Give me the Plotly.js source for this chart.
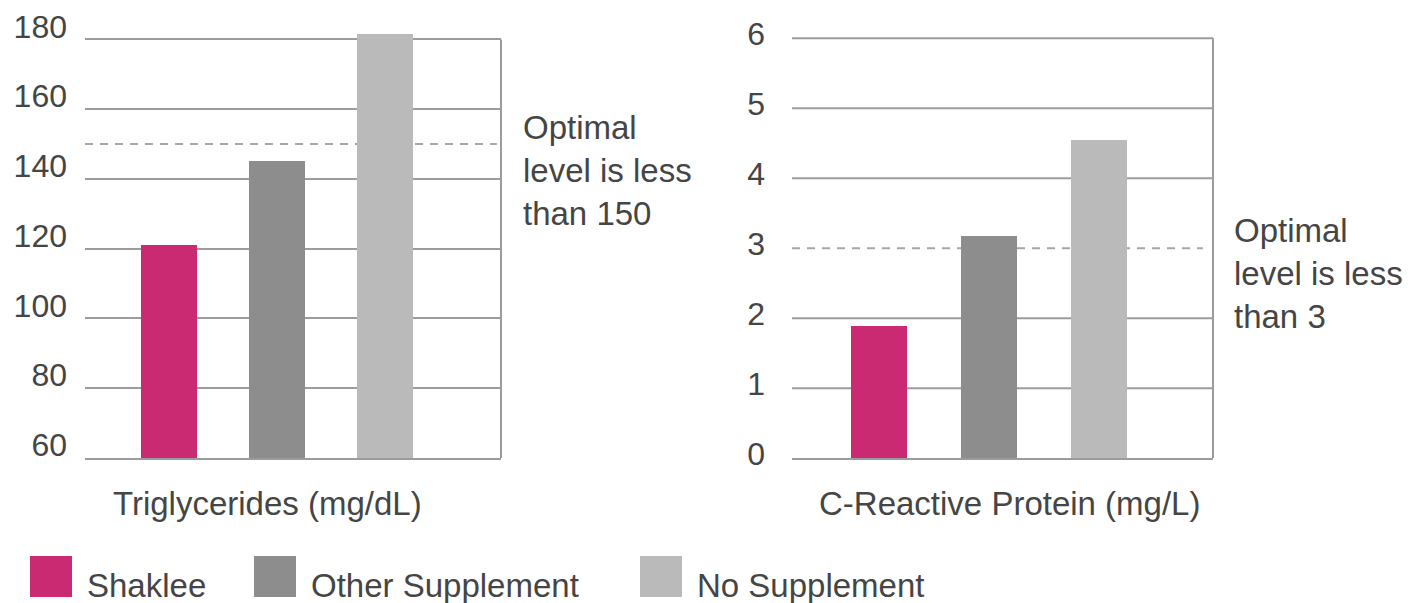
<!DOCTYPE html>
<html>
<head>
<meta charset="utf-8">
<script src="https://cdn.plot.ly/plotly-3.0.1.min.js"></script>
<style>html,body{margin:0;padding:0;background:#fff;}#chart{width:1409px;height:603px;}</style>
</head>
<body>
<div id="chart"></div>
<script>
// ---- data ----
const groups = ['Shaklee', 'Other Supplement', 'No Supplement'];
const groupColors = ['#c92a72', '#8d8d8d', '#bababa'];
const triglycerides = [121, 145.2, 181.6];
const crp = [1.89, 3.17, 4.55];
const trigTicks = [60, 80, 100, 120, 140, 160, 180];
const crpTicks = [0, 1, 2, 3, 4, 5, 6];
const trigOptimal = 150;
const crpOptimal = 3;
const trigTitle = 'Triglycerides (mg/dL)';
const crpTitle = 'C-Reactive Protein (mg/L)';
const trigNote = 'Optimal<br>level is less<br>than 150';
const crpNote = 'Optimal<br>level is less<br>than 3';

// ---- styles ----
const W = 1409, H = 603;
const FONT = 'Liberation Sans, Arial, sans-serif';
const TXT = '#454545';
const GRID = '#9c9c9c';
const DASH = '#a6a6a6';
const px = v => v / W;
const py = v => 1 - v / H;

const traces = [
  {type: 'bar', x: groups, y: triglycerides, xaxis: 'x', yaxis: 'y', width: 0.51,
   marker: {color: groupColors}, showlegend: false, hoverinfo: 'x+y'},
  {type: 'bar', x: groups, y: crp, xaxis: 'x2', yaxis: 'y2', width: 0.51,
   marker: {color: groupColors}, showlegend: false, hoverinfo: 'x+y'}
];

const yCommon = {
  showgrid: true, gridcolor: GRID, gridwidth: 2, zeroline: false, showline: false,
  ticks: '', tickfont: {family: FONT, size: 32, color: TXT}, tickmode: 'array', fixedrange: true
};
const xCommon = {
  type: 'category', showticklabels: false, showgrid: false, zeroline: false,
  showline: true, linecolor: GRID, linewidth: 2, ticks: '', fixedrange: true
};

const layout = {
  width: W, height: H,
  margin: {l: 0, r: 0, t: 0, b: 0},
  paper_bgcolor: '#ffffff', plot_bgcolor: '#ffffff',
  showlegend: false,
  bargap: 0,
  xaxis: Object.assign({}, xCommon, {domain: [px(85), px(501)], range: [-0.778, 3.074], anchor: 'y'}),
  yaxis: Object.assign({}, yCommon, {domain: [py(458), py(29)], range: [60, 183],
    tickvals: trigTicks, ticktext: trigTicks.map(String), anchor: 'x',
    ticklabelstandoff: 17, ticklabelshift: -13}),
  xaxis2: Object.assign({}, xCommon, {domain: [px(792), px(1213)], range: [-0.79, 3.036], anchor: 'y2'}),
  // right chart: grid drawn as shapes so the optimal level shows only as a dashed line
  yaxis2: Object.assign({}, yCommon, {domain: [py(458.3), py(34.8)], range: [0, 6.05], showgrid: false,
    tickvals: crpTicks, ticktext: crpTicks.map(String), anchor: 'x2',
    ticklabelstandoff: 26, ticklabelshift: -5}),
  shapes: [
    {type: 'line', xref: 'x domain', yref: 'y', x0: 1, x1: 1, y0: trigTicks[0], y1: trigTicks[trigTicks.length - 1],
     line: {color: GRID, width: 2}},
    {type: 'line', xref: 'x2 domain', yref: 'y2', x0: 1, x1: 1, y0: crpTicks[0], y1: crpTicks[crpTicks.length - 1],
     line: {color: GRID, width: 2}},
    {type: 'line', xref: 'x domain', yref: 'y', x0: 0, x1: 0.99, y0: trigOptimal, y1: trigOptimal, layer: 'below',
     line: {color: DASH, width: 2, dash: '8px,7px'}},
    {type: 'line', xref: 'x2 domain', yref: 'y2', x0: 0, x1: 0.976, y0: crpOptimal, y1: crpOptimal, layer: 'below',
     line: {color: DASH, width: 2, dash: '8px,7px'}}
  ],
  annotations: [
    {xref: 'paper', yref: 'paper', x: px(521), y: py(171), xanchor: 'left', yanchor: 'middle', align: 'left',
     text: trigNote, showarrow: false, font: {family: FONT, size: 33, color: TXT}},
    {xref: 'paper', yref: 'paper', x: px(1232), y: py(274), xanchor: 'left', yanchor: 'middle', align: 'left',
     text: crpNote, showarrow: false, font: {family: FONT, size: 33, color: TXT}},
    {xref: 'paper', yref: 'paper', x: px(267.5), y: py(503), xanchor: 'center', yanchor: 'middle',
     text: trigTitle, showarrow: false, font: {family: FONT, size: 33, color: TXT}},
    {xref: 'paper', yref: 'paper', x: px(1009), y: py(503), xanchor: 'center', yanchor: 'middle',
     text: crpTitle, showarrow: false, font: {family: FONT, size: 33, color: TXT}}
  ]
};

crpTicks.filter(v => v !== crpOptimal && v !== crpTicks[0]).forEach(v => {
  layout.shapes.push({type: 'line', xref: 'x2 domain', yref: 'y2', x0: 0, x1: 1, y0: v, y1: v,
    layer: 'below', line: {color: GRID, width: 2}});
});

// legend (drawn manually so the swatches can be large)
const legendX = [30, 254, 640];
groups.forEach((g, i) => {
  layout.shapes.push({type: 'rect', xref: 'paper', yref: 'paper',
    x0: px(legendX[i]), x1: px(legendX[i] + 42), y0: py(597), y1: py(556),
    fillcolor: groupColors[i], line: {width: 0}});
  layout.annotations.push({xref: 'paper', yref: 'paper', x: px(legendX[i] + 55), y: py(585),
    xanchor: 'left', yanchor: 'middle', text: g, showarrow: false,
    font: {family: FONT, size: 33, color: TXT}});
});

Plotly.newPlot('chart', traces, layout, {displayModeBar: false, staticPlot: true});
</script>
</body>
</html>
